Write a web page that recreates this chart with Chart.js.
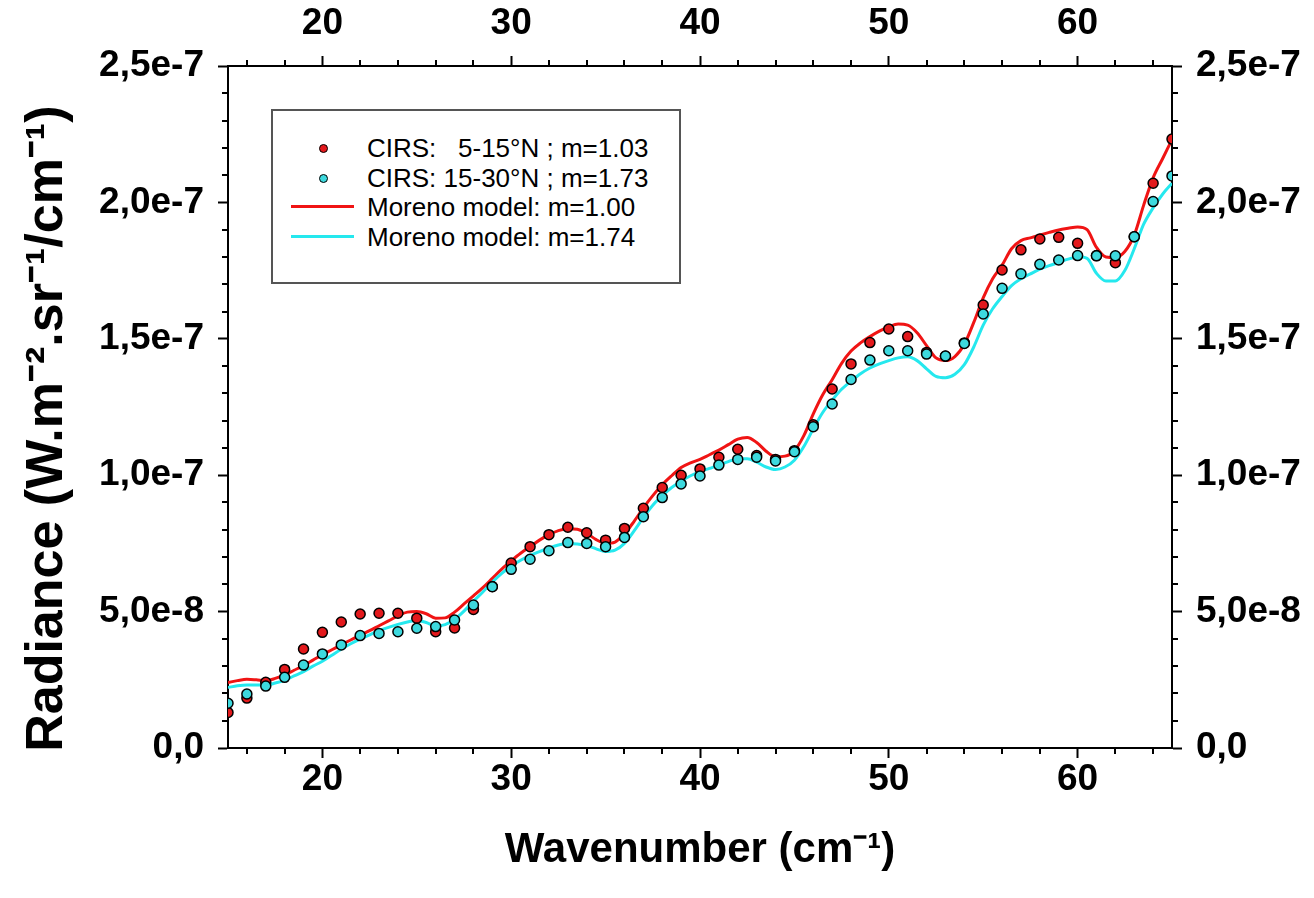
<!DOCTYPE html>
<html>
<head>
<meta charset="utf-8">
<title>Radiance vs wavenumber</title>
<script src="https://cdn.jsdelivr.net/npm/chart.js@4.4.0/dist/chart.umd.min.js"></script>
<style>
    body { margin: 0; background: #fff; }
    #wrap { position: relative; width: 1314px; height: 898px; }
    #legend {
        position: absolute; left: 271px; top: 109px; width: 410px; height: 175px;
        box-sizing: border-box; border: 2px solid #555; background: #fff;
        font-family: 'Liberation Sans', Arial, sans-serif; font-size: 26px; color: #000;
    }
    #legend .row { position: absolute; left: 0; width: 100%; height: 30px; }
    #legend .txt { position: absolute; left: 94px; top: 0; line-height: 30px; white-space: pre; }
    #legend .dot { position: absolute; left: 46px; top: 11px; width: 7px; height: 7px; border-radius: 50%; border: 1.5px solid #000; }
    #legend .ln { position: absolute; left: 18px; top: 13px; width: 63px; height: 3px; }
</style>
</head>
<body>
<div id="wrap">
    <canvas id="chart-radiance"></canvas>
    <div id="legend"></div>
</div>
<script>
// Longitud de onda (cm-1) de las medidas CIRS
const cirsWavenumber = [15, 16, 17, 18, 19, 20, 21, 22, 23, 24, 25, 26, 27, 28, 29, 30, 31, 32, 33, 34,
    35, 36, 37, 38, 39, 40, 41, 42, 43, 44, 45, 46, 47, 48, 49, 50, 51, 52, 53, 54,
    55, 56, 57, 58, 59, 60, 61, 62, 63, 64, 65];

// Radiancia en unidades de 1e-8 W.m-2.sr-1/cm-1
const cirs5to15N = [1.30, 1.83, 2.41, 2.88, 3.63, 4.24, 4.62, 4.91, 4.94, 4.94, 4.76, 4.26, 4.40, 5.08, 5.92, 6.78, 7.38, 7.82, 8.09, 7.89,
    7.62, 8.05, 8.79, 9.55, 10.00, 10.23, 10.66, 10.95, 10.72, 10.58, 10.90, 11.85, 13.16, 14.08, 14.86, 15.36, 15.08, 14.50, 14.36, 14.85,
    16.24, 17.52, 18.26, 18.66, 18.72, 18.50, 18.05, 17.79, 18.74, 20.70, 22.32];

const cirs15to30N = [1.64, 1.98, 2.27, 2.59, 3.04, 3.45, 3.78, 4.12, 4.20, 4.26, 4.39, 4.45, 4.69, 5.24, 5.91, 6.55, 6.92, 7.23, 7.53, 7.50,
    7.38, 7.72, 8.48, 9.18, 9.68, 9.97, 10.37, 10.58, 10.66, 10.52, 10.86, 11.78, 12.61, 13.51, 14.22, 14.56, 14.56, 14.44, 14.37, 14.83,
    15.91, 16.85, 17.38, 17.73, 17.89, 18.05, 18.04, 18.04, 18.74, 20.03, 20.97];

// Malla del modelo (cada 0.5 cm-1)
const modelWavenumber = [15, 15.5, 16, 16.5, 17, 17.5, 18, 18.5, 19, 19.5, 20, 20.5, 21, 21.5, 22, 22.5, 23, 23.5, 24, 24.5,
    25, 25.5, 26, 26.5, 27, 27.5, 28, 28.5, 29, 29.5, 30, 30.5, 31, 31.5, 32, 32.5, 33, 33.5, 34, 34.5,
    35, 35.5, 36, 36.5, 37, 37.5, 38, 38.5, 39, 39.5, 40, 40.5, 41, 41.5, 42, 42.5, 43, 43.5, 44, 44.5,
    45, 45.5, 46, 46.5, 47, 47.5, 48, 48.5, 49, 49.5, 50, 50.5, 51, 51.5, 52, 52.5, 53, 53.5, 54, 54.5,
    55, 55.5, 56, 56.5, 57, 57.5, 58, 58.5, 59, 59.5, 60, 60.5, 61, 61.5, 62, 62.5, 63, 63.5, 64, 64.5, 65];

const morenoM100 = [2.40, 2.47, 2.52, 2.50, 2.47, 2.55, 2.68, 2.85, 3.02, 3.22, 3.42, 3.60, 3.78, 3.96, 4.13, 4.30, 4.48, 4.66, 4.84, 4.98,
    5.00, 4.92, 4.76, 4.77, 4.98, 5.28, 5.58, 5.88, 6.22, 6.56, 6.86, 7.14, 7.38, 7.62, 7.82, 7.97, 8.04, 8.02, 7.87, 7.64,
    7.50, 7.55, 7.85, 8.30, 8.80, 9.25, 9.65, 9.98, 10.28, 10.45, 10.58, 10.75, 10.92, 11.12, 11.32, 11.38, 11.20, 10.88, 10.68, 10.70,
    10.90, 11.45, 12.25, 12.95, 13.50, 14.10, 14.55, 14.85, 15.08, 15.28, 15.44, 15.54, 15.50, 15.22, 14.75, 14.30, 14.20, 14.35, 14.80, 15.60,
    16.50, 17.20, 17.70, 18.30, 18.60, 18.70, 18.80, 18.90, 18.99, 19.05, 19.10, 19.00, 18.35, 18.00, 17.98, 18.20, 18.80, 19.90, 20.90, 21.60, 22.30];

const morenoM174 = [2.22, 2.28, 2.31, 2.31, 2.31, 2.38, 2.48, 2.64, 2.80, 3.00, 3.18, 3.40, 3.62, 3.82, 3.99, 4.15, 4.30, 4.42, 4.53, 4.62,
    4.67, 4.60, 4.47, 4.52, 4.72, 5.02, 5.38, 5.72, 6.08, 6.40, 6.66, 6.88, 7.06, 7.20, 7.33, 7.44, 7.50, 7.48, 7.42, 7.30,
    7.20, 7.25, 7.50, 7.95, 8.45, 8.90, 9.25, 9.55, 9.78, 9.98, 10.13, 10.25, 10.37, 10.50, 10.60, 10.60, 10.48, 10.30, 10.21, 10.30,
    10.55, 11.05, 11.70, 12.30, 12.75, 13.15, 13.45, 13.72, 13.93, 14.08, 14.20, 14.30, 14.34, 14.20, 13.90, 13.62, 13.57, 13.70, 14.05, 14.70,
    15.50, 16.10, 16.55, 16.95, 17.20, 17.38, 17.55, 17.68, 17.80, 17.92, 18.01, 17.95, 17.40, 17.12, 17.12, 17.50, 18.30, 19.20, 19.80, 20.30, 20.70];

// Marcas de los ejes
const xMajorTicks = [20, 30, 40, 50, 60];
const xMinorTicks = [16, 18, 22, 24, 26, 28, 32, 34, 36, 38, 42, 44, 46, 48, 52, 54, 56, 58, 62, 64];
const yMajorTicks = [0, 5, 10, 15, 20, 25];
const yTickLabels = ['0,0', '5,0e-8', '1,0e-7', '1,5e-7', '2,0e-7', '2,5e-7'];
const yMinorTicks = [1, 2, 3, 4, 6, 7, 8, 9, 11, 12, 13, 14, 16, 17, 18, 19, 21, 22, 23, 24];

const seriesLabels = ['CIRS:   5-15°N ; m=1.03', 'CIRS: 15-30°N ; m=1.73', 'Moreno model: m=1.00', 'Moreno model: m=1.74'];

const rojo = '#e3191c';
const rojoLinea = '#f01414';
const cian = '#3dd9de';
const cianLinea = '#25e8ee';

function toXY(xs, ys) {
    return xs.map((x, i) => ({ x: x, y: ys[i] }));
}

// Marcas menores dibujadas con las escalas del grafico
const minorTicks = {
    id: 'minorTicks',
    afterDraw(chart) {
        const ctx = chart.ctx;
        const area = chart.chartArea;
        const len = 6;
        ctx.save();
        ctx.strokeStyle = '#000';
        ctx.lineWidth = 2;
        ctx.beginPath();
        xMinorTicks.forEach((v) => {
            const px = Math.round(chart.scales.x.getPixelForValue(v));
            ctx.moveTo(px, area.bottom); ctx.lineTo(px, area.bottom + len);
            ctx.moveTo(px, area.top); ctx.lineTo(px, area.top - len);
        });
        yMinorTicks.forEach((v) => {
            const py = Math.round(chart.scales.y.getPixelForValue(v));
            ctx.moveTo(area.left, py); ctx.lineTo(area.left - len, py);
            ctx.moveTo(area.right, py); ctx.lineTo(area.right + len, py);
        });
        ctx.stroke();
        ctx.restore();
    }
};

const tickFont = { family: "'Liberation Sans', Arial, sans-serif", size: 37, weight: 'bold' };
const titleFontX = { family: "'Liberation Sans', Arial, sans-serif", size: 42, weight: 'bold' };
const titleFontY = { family: "'Liberation Sans', Arial, sans-serif", size: 52, weight: 'bold' };

function ejeX(position, showTitle) {
    return {
        type: 'linear',
        position: position,
        min: 15,
        max: 65,
        afterBuildTicks: (scale) => { scale.ticks = xMajorTicks.map((v) => ({ value: v })); },
        afterFit: (scale) => { scale.height = position === 'bottom' ? 150 : 66; },
        ticks: { font: tickFont, color: '#000', padding: position === 'bottom' ? 0 : 10, maxRotation: 0, callback: (v) => String(v) },
        grid: { drawOnChartArea: false, tickLength: 10, tickWidth: 2, tickColor: '#000' },
        border: { display: true, color: '#000', width: 2 },
        title: { display: showTitle, text: 'Wavenumber (cm⁻¹)', font: titleFontX, color: '#000', padding: { top: 0, bottom: 22 } },
    };
}

function ejeY(position, showTitle) {
    return {
        type: 'linear',
        position: position,
        min: 0,
        max: 25,
        afterBuildTicks: (scale) => { scale.ticks = yMajorTicks.map((v) => ({ value: v })); },
        afterFit: (scale) => { scale.width = position === 'left' ? 228 : 142; },
        ticks: { font: tickFont, color: '#000', padding: 14, callback: (v, i) => yTickLabels[i] },
        grid: { drawOnChartArea: false, tickLength: 10, tickWidth: 2, tickColor: '#000' },
        border: { display: true, color: '#000', width: 2 },
        title: { display: showTitle, text: 'Radiance (W.m⁻².sr⁻¹/cm⁻¹)   ', font: titleFontY, color: '#000', padding: { top: 16, bottom: 0 } },
    };
}

const ctx = document.getElementById('chart-radiance').getContext('2d');
const chart = new Chart(ctx, {
    type: 'line',
    data: {
        datasets: [
            {
                label: seriesLabels[0],
                data: toXY(cirsWavenumber, cirs5to15N),
                showLine: false,
                pointRadius: 5,
                pointBackgroundColor: rojo,
                pointBorderColor: '#000',
                pointBorderWidth: 1.5,
                order: 2,
            },
            {
                label: seriesLabels[1],
                data: toXY(cirsWavenumber, cirs15to30N),
                showLine: false,
                pointRadius: 5,
                pointBackgroundColor: cian,
                pointBorderColor: '#000',
                pointBorderWidth: 1.5,
                order: 1,
            },
            {
                label: seriesLabels[2],
                data: toXY(modelWavenumber, morenoM100),
                borderColor: rojoLinea,
                borderWidth: 3,
                pointRadius: 0,
                cubicInterpolationMode: 'monotone',
                order: 4,
            },
            {
                label: seriesLabels[3],
                data: toXY(modelWavenumber, morenoM174),
                borderColor: cianLinea,
                borderWidth: 3,
                pointRadius: 0,
                cubicInterpolationMode: 'monotone',
                order: 3,
            },
        ]
    },
    options: {
        responsive: true,
        maintainAspectRatio: false,
        animation: false,
        layout: { padding: 0 },
        plugins: {
            legend: { display: false },
            tooltip: { enabled: false },
        },
        scales: {
            x: ejeX('bottom', true),
            x2: ejeX('top', false),
            y: ejeY('left', true),
            y2: ejeY('right', false),
        }
    },
    plugins: [minorTicks]
});

// Leyenda dentro del area del grafico
const legend = document.getElementById('legend');
const rowTops = [22, 52, 81, 111];
chart.data.datasets.forEach((ds, i) => {
    const row = document.createElement('div');
    row.className = 'row';
    row.style.top = rowTops[i] + 'px';
    const mark = document.createElement('div');
    if (ds.showLine === false) {
        mark.className = 'dot';
        mark.style.background = ds.pointBackgroundColor;
    } else {
        mark.className = 'ln';
        mark.style.background = ds.borderColor;
    }
    const txt = document.createElement('div');
    txt.className = 'txt';
    txt.textContent = ds.label;
    row.appendChild(mark);
    row.appendChild(txt);
    legend.appendChild(row);
});
</script>
</body>
</html>
